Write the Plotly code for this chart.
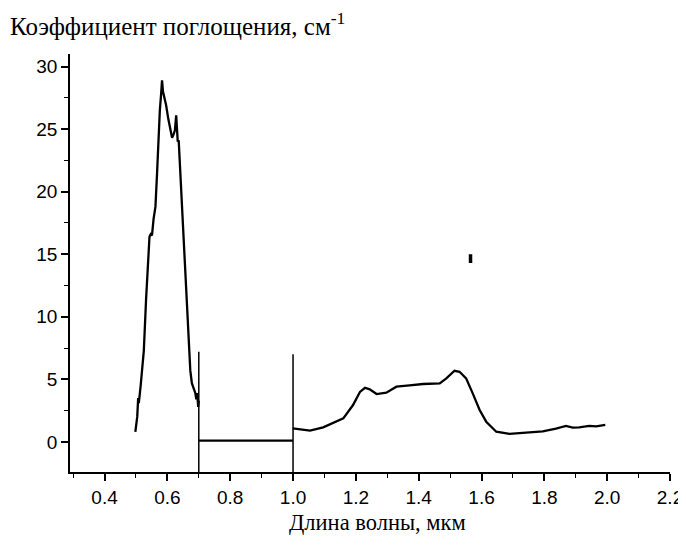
import plotly.graph_objects as go

# Visible band absorption (0.5 - 0.7 um)
vis_wl = [0.498, 0.502, 0.504, 0.507, 0.509, 0.515, 0.520, 0.525, 0.532, 0.537, 0.541, 0.543,
          0.547, 0.551, 0.556, 0.562, 0.567, 0.571, 0.576, 0.580, 0.583, 0.586, 0.590, 0.596,
          0.603, 0.610, 0.615, 0.620, 0.624, 0.628, 0.630, 0.633, 0.636, 0.641, 0.647, 0.655,
          0.662, 0.668, 0.673, 0.678, 0.684, 0.689, 0.692, 0.695, 0.698, 0.700]
vis_k = [0.8, 1.6, 2.0, 3.5, 3.1, 4.5, 5.7, 7.3, 11.3, 13.5, 15.3, 16.4,
         16.6, 16.5, 17.8, 18.8, 21.4, 24.1, 26.5, 27.8, 28.9, 28.0, 27.6, 26.9,
         25.8, 24.8, 24.3, 24.6, 24.9, 26.1, 24.6, 24.0, 24.1, 21.5, 18.8, 14.5,
         11.3, 7.3, 5.7, 4.7, 4.2, 3.9, 3.4, 3.9, 2.8, 3.3]

# Near-zero segment (0.7 - 1.0 um)
mid_wl = [0.700, 0.75, 0.80, 0.85, 0.90, 0.95, 1.000]
mid_k = [0.1, 0.1, 0.08, 0.12, 0.08, 0.1, 0.1]

# IR band absorption (1.0 - 2.0 um)
ir_wl = [0.999, 1.020, 1.054, 1.096, 1.128, 1.160, 1.191, 1.213, 1.229, 1.244, 1.266, 1.297,
         1.329, 1.350, 1.371, 1.414, 1.440, 1.467, 1.488, 1.514, 1.530, 1.551, 1.572, 1.594,
         1.615, 1.647, 1.689, 1.731, 1.760, 1.795, 1.837, 1.869, 1.890, 1.911, 1.943, 1.965, 1.994]
ir_k = [1.09, 1.02, 0.90, 1.17, 1.54, 1.89, 2.95, 4.00, 4.33, 4.20, 3.83, 3.94,
        4.42, 4.50, 4.52, 4.63, 4.63, 4.68, 5.08, 5.69, 5.61, 5.08, 3.88, 2.55,
        1.62, 0.82, 0.64, 0.74, 0.78, 0.85, 1.06, 1.28, 1.15, 1.17, 1.28, 1.25, 1.36]

# Vertical boundary markers
edge_wl = [0.700, 1.000]
edge_bottom = [-2.4, -2.4]
edge_top = [7.2, 7.0]

# Stray speck in the scan
speck_wl = [1.565, 1.565]
speck_k = [14.3, 15.0]

x_ticks = [0.4, 0.6, 0.8, 1.0, 1.2, 1.4, 1.6, 1.8, 2.0, 2.2]
x_tick_labels = ["0.4", "0.6", "0.8", "1.0", "1.2", "1.4", "1.6", "1.8", "2.0", "2.2"]
y_ticks = [0, 5, 10, 15, 20, 25, 30]

line_style = dict(color="black", width=2.3)

fig = go.Figure()
fig.add_trace(go.Scatter(x=vis_wl, y=vis_k, mode="lines", line=line_style, showlegend=False))
fig.add_trace(go.Scatter(x=mid_wl, y=mid_k, mode="lines", line=line_style, showlegend=False))
fig.add_trace(go.Scatter(x=ir_wl, y=ir_k, mode="lines", line=line_style, showlegend=False))
for w, b, t in zip(edge_wl, edge_bottom, edge_top):
    fig.add_trace(go.Scatter(x=[w, w], y=[b, t], mode="lines",
                             line=dict(color="black", width=1.5), showlegend=False))
fig.add_trace(go.Scatter(x=speck_wl, y=speck_k, mode="lines",
                         line=dict(color="black", width=3.5), showlegend=False))

tick_font = dict(family="Liberation Sans, Arial, sans-serif", size=19, color="black")
serif = "Liberation Serif"

fig.update_layout(
    width=686, height=545,
    margin=dict(l=62, r=24, t=46, b=81),
    paper_bgcolor="white", plot_bgcolor="white",
    xaxis=dict(range=[0.29, 2.2], tickvals=x_ticks, ticktext=x_tick_labels,
               showgrid=False, zeroline=False, showline=True, linecolor="black", linewidth=1.6,
               ticks="outside", ticklen=7, tickwidth=1.6, tickcolor="black", tickfont=tick_font,
               minor=dict(dtick=0.1, tick0=0.3, ticks="outside", ticklen=4, tickwidth=1.3,
                          tickcolor="black", showgrid=False)),
    yaxis=dict(range=[-2.4, 31], tickvals=y_ticks,
               showgrid=False, zeroline=False, showline=True, linecolor="black", linewidth=1.6,
               ticks="outside", ticklen=7, tickwidth=1.6, tickcolor="black", tickfont=tick_font,
               minor=dict(dtick=2.5, tick0=0, ticks="outside", ticklen=4, tickwidth=1.3,
                          tickcolor="black", showgrid=False)),
    annotations=[
        dict(text="Коэффициент поглощения, см<sup>-1</sup>", xref="paper", yref="paper",
             x=-0.103, y=1.072, xanchor="left", yanchor="middle", showarrow=False,
             font=dict(family=serif, size=25, color="black")),
        dict(text="Длина волны, мкм", xref="paper", yref="paper",
             x=0.513, y=-0.12, xanchor="center", yanchor="middle", showarrow=False,
             font=dict(family=serif, size=22.5, color="black")),
    ],
)

fig.write_html("out.html")
